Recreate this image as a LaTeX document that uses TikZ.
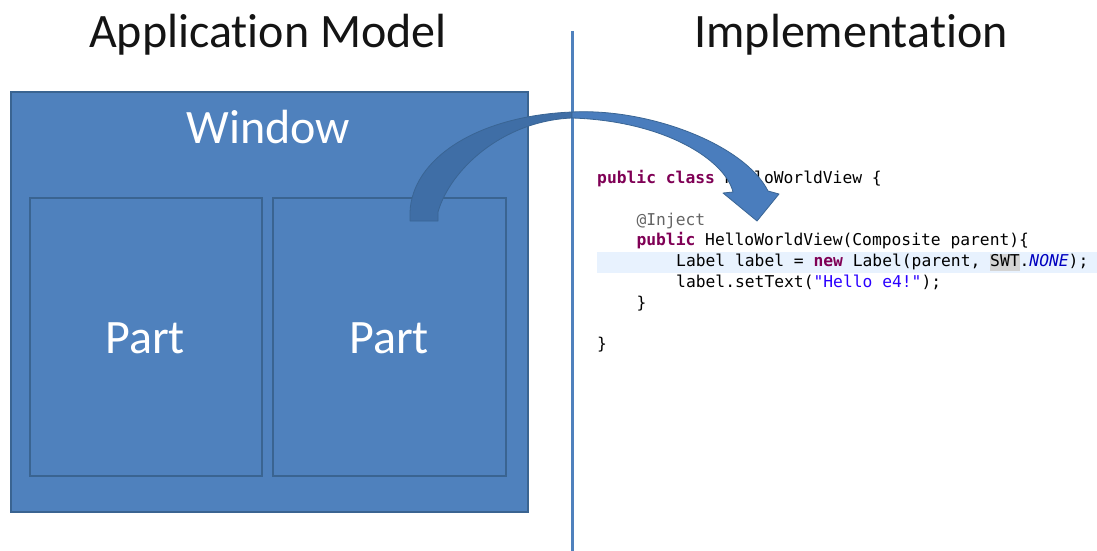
\documentclass[tikz,border=0pt]{standalone}
\usepackage{fontspec}
\setmainfont{Carlito}[Ligatures=NoCommon]
\setmonofont{DejaVu Sans Mono}

\definecolor{boxblue}{HTML}{4F81BD}
\definecolor{boxedge}{HTML}{3A6491}
\definecolor{arrowblue}{HTML}{4A7DBD}
\definecolor{arrowdark}{HTML}{3F6EA6}
\definecolor{arrowedge}{HTML}{3A6594}
\definecolor{kw}{HTML}{7F0055}
\definecolor{anno}{HTML}{646464}
\definecolor{strcol}{HTML}{2A00FF}
\definecolor{constcol}{HTML}{0000C0}
\definecolor{curline}{HTML}{E8F2FE}
\definecolor{swtbg}{HTML}{D4D4D4}

\newcommand{\kwd}[1]{\textcolor{kw}{\bfseries #1}}

\begin{document}
\begin{tikzpicture}[x=1pt,y=-1pt,
  heading/.style={font=\fontsize{48}{56}\selectfont, text=black!92, anchor=base, inner sep=0pt},
  boxlabel/.style={font=\fontsize{48}{56}\selectfont, text=white, anchor=base, inner sep=0pt},
  panel/.style={draw=boxedge, fill=boxblue, line width=1.5pt, anchor=north west, inner sep=0pt},
  codeline/.style={font=\fontsize{16.3}{20}\selectfont\ttfamily, anchor=base west, inner sep=0pt, text=black},
  arrowpart/.style={draw=arrowedge, line width=0.8pt, line join=round}]

\useasboundingbox (0,0) rectangle (1097,551);

% titles
\node[heading] (modeltitle) at (268,48) {Application Model};
\node[heading] (impltitle) at (851,48) {Implementation};

% divider between the two halves
\coordinate (divtop) at (572,31);
\coordinate (divbot) at (572,551);
\draw[boxblue, line width=3pt] (divtop) -- (divbot);

% application model: window with two parts
\node[panel, minimum width=517pt, minimum height=420pt] (window) at (10,91) {};
\node[boxlabel] (windowtext) at (268.5,143) {Window};
\node[panel, minimum width=232pt, minimum height=278pt] (partA) at (29,197) {};
\node[panel, minimum width=233pt, minimum height=278pt] (partB) at (272,197) {};
\node[boxlabel] (partAtext) at (145,353) {Part};
\node[boxlabel] (partBtext) at (389,353) {Part};

% current-line highlight in the editor
\fill[curline] (597,252) rectangle (1097,273);

% source code
\node[codeline] (c1) at (597,183.5) {\kwd{public class} HelloWorldView \{};
\node[codeline, text=anno] (c2) at (636.3,225.1) {@Inject};
\node[codeline] (c3) at (636.3,245.9) {\kwd{public} HelloWorldView(Composite parent)\{};
\node[codeline] (c4) at (676,266.7) {Label label = \kwd{new} Label(parent, \makebox[0pt][l]{\textcolor{swtbg}{\rule[-4pt]{29.5pt}{17pt}}}SWT.\textcolor{constcol}{\itshape NONE});};
\node[codeline] (c5) at (676,287.5) {label.setText(\textcolor{strcol}{"Hello e4!"});};
\node[codeline] (c6) at (636.3,308.3) {\}};
\node[codeline] (c7) at (597,349.9) {\}};

% curved arrow from the part to the class
\coordinate (tail) at (424,221);
\coordinate (apex) at (572,115);
\coordinate (tip) at (757,221);
\path[arrowpart, fill=arrowdark]
  (410,221) -- (410,212) .. controls (412,160) and (475,116) .. (572,112)
  -- (572,118) .. controls (502,121) and (450,170) .. (438,212) -- (438,221) -- cycle;
\path[arrowpart, fill=arrowblue]
  (572,112) .. controls (650,108) and (745,145) .. (768,191)
  -- (779,194) -- (tip) -- (723,193) -- (733,192)
  .. controls (725,160) and (665,121) .. (572,118) -- cycle;
\end{tikzpicture}
\end{document}
